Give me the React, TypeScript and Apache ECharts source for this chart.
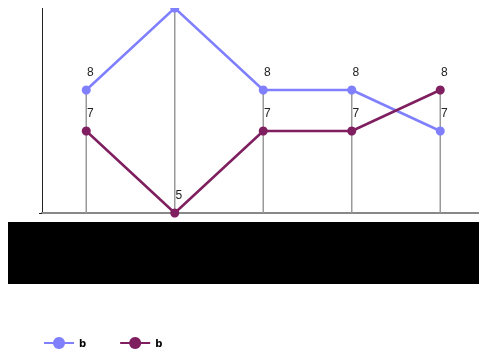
import React, { useEffect, useRef } from "react";
import * as echarts from "echarts";

const categories = ["1", "2", "3", "4", "5"];
const seriesNames = ["b", "b "];
const blueValues = [8, 10, 8, 8, 7];
const maroonValues = [7, 5, 7, 7, 8];
const yMin = 5;
const yMax = 10;

const W = 471;
const H = 346;

export default function App() {
  const ref = useRef<HTMLDivElement>(null);
  useEffect(() => {
    document.documentElement.style.overflow = "hidden";
    document.body.style.overflow = "hidden";
    const chart = echarts.init(ref.current!, null, { renderer: "svg", width: W, height: H });
    const dropData = categories.map((_, i) => [i, Math.max(blueValues[i], maroonValues[i])]);
    const labelStyle = {
      show: true,
      position: "top",
      distance: 8,
      offset: [4, 0],
      color: "#222",
      fontSize: 12,
      fontFamily: "Liberation Sans",
    };
    const hideTopLabel = (arr: number[]) =>
      arr.map((v) => (v >= yMax ? { value: v, label: { show: false } } : v));
    chart.setOption({
      animation: false,
      grid: { left: 34, right: -5.5, top: 0, height: 205, outerBoundsMode: "none" },
      xAxis: {
        type: "category",
        data: categories,
        boundaryGap: true,
        axisLine: { show: true, lineStyle: { color: "#888", width: 2 } },
        axisTick: { show: false },
        axisLabel: { show: false },
        splitLine: { show: false },
      },
      yAxis: {
        type: "value",
        min: yMin,
        max: yMax,
        interval: 5,
        axisLine: { show: true, lineStyle: { color: "#222", width: 1 } },
        axisTick: { show: true, length: 3, customValues: [yMin], lineStyle: { color: "#222" } },
        axisLabel: { show: false },
        splitLine: { show: false },
      },
      legend: {
        left: 30,
        top: 324,
        itemWidth: 30,
        itemHeight: 15,
        itemGap: 33,
        textStyle: { color: "#000", fontWeight: "bold", fontSize: 10, fontFamily: "DejaVu Sans" },
        data: seriesNames,
      },
      graphic: [
        {
          type: "rect",
          left: 0,
          top: 214,
          shape: { width: W, height: 62 },
          style: { fill: "#000" },
        },
      ],
      series: [
        {
          type: "custom",
          silent: true,
          z: 1,
          data: dropData,
          renderItem: (params: any, api: any) => {
            const top = api.coord([api.value(0), api.value(1)]);
            const bottom = api.coord([api.value(0), yMin]);
            return {
              type: "line",
              shape: { x1: top[0], y1: top[1], x2: bottom[0], y2: bottom[1] },
              style: { stroke: "#999", lineWidth: 1.5 },
            };
          },
        },
        {
          name: seriesNames[0],
          type: "line",
          z: 3,
          data: hideTopLabel(blueValues),
          color: "#8080ff",
          symbol: "circle",
          symbolSize: 9,
          lineStyle: { width: 2.5, color: "#8080ff" },
          itemStyle: { color: "#8080ff" },
          label: labelStyle,
        },
        {
          name: seriesNames[1],
          type: "line",
          z: 3,
          data: hideTopLabel(maroonValues),
          color: "#7f1f5f",
          symbol: "circle",
          symbolSize: 9,
          lineStyle: { width: 2.5, color: "#7f1f5f" },
          itemStyle: { color: "#7f1f5f" },
          label: labelStyle,
        },
      ],
    });
    return () => chart.dispose();
  }, []);
  return (
    <div
      ref={ref}
      style={{ position: "fixed", left: 8, top: 8, width: W, height: H, overflow: "hidden" }}
    />
  );
}
